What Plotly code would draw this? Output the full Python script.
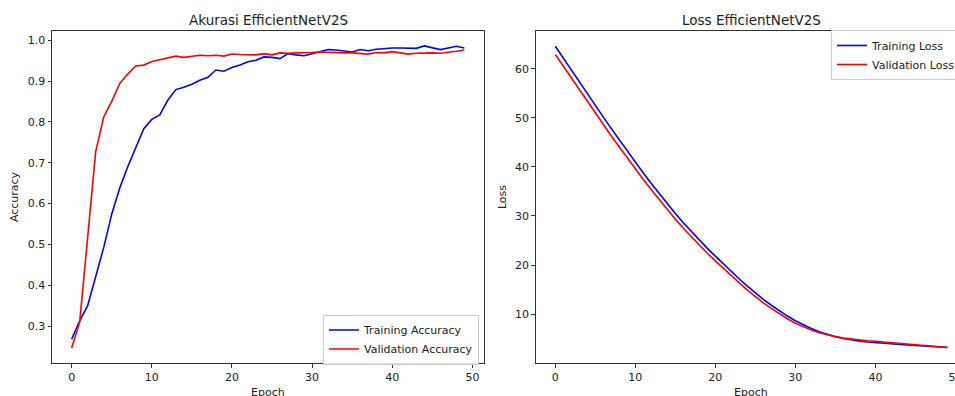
import plotly.graph_objects as go

epochs = list(range(50))

train_acc = [0.268, 0.312, 0.350, 0.421, 0.492, 0.574, 0.638, 0.690, 0.737, 0.783,
             0.806, 0.817, 0.853, 0.879, 0.885, 0.892, 0.902, 0.909, 0.927, 0.924,
             0.933, 0.939, 0.947, 0.951, 0.959, 0.958, 0.955, 0.967, 0.964, 0.962,
             0.967, 0.972, 0.977, 0.976, 0.974, 0.971, 0.977, 0.974, 0.978, 0.980,
             0.981, 0.981, 0.980, 0.980, 0.986, 0.982, 0.977, 0.981, 0.985, 0.981]

val_acc = [0.246, 0.309, 0.517, 0.727, 0.812, 0.850, 0.894, 0.917, 0.937, 0.939,
           0.948, 0.952, 0.956, 0.961, 0.958, 0.960, 0.963, 0.962, 0.963, 0.961,
           0.966, 0.965, 0.965, 0.964, 0.967, 0.964, 0.969, 0.968, 0.969, 0.969,
           0.970, 0.971, 0.970, 0.970, 0.969, 0.969, 0.968, 0.966, 0.970, 0.969,
           0.972, 0.969, 0.966, 0.968, 0.969, 0.969, 0.968, 0.970, 0.973, 0.976]

train_loss = [64.6, 62.15, 59.7, 57.3, 54.9, 52.5, 50.15, 47.8, 45.5, 43.2,
              40.95, 38.75, 36.6, 34.5, 32.45, 30.5, 28.6, 26.8, 25.05, 23.4,
              21.8, 20.2, 18.65, 17.15, 15.7, 14.3, 13.0, 11.8, 10.65, 9.6,
              8.65, 7.8, 7.05, 6.4, 5.85, 5.4, 5.03, 4.73, 4.49, 4.31,
              4.16, 4.04, 3.93, 3.82, 3.71, 3.61, 3.51, 3.41, 3.31, 3.21]

val_loss = [62.9, 60.5, 58.05, 55.7, 53.3, 50.95, 48.6, 46.3, 44.05, 41.8,
            39.6, 37.45, 35.35, 33.3, 31.25, 29.35, 27.5, 25.75, 24.0, 22.4,
            20.85, 19.3, 17.8, 16.35, 14.9, 13.55, 12.3, 11.15, 10.05, 9.05,
            8.15, 7.4, 6.75, 6.2, 5.75, 5.4, 5.1, 4.88, 4.7, 4.55,
            4.45, 4.32, 4.2, 4.07, 3.95, 3.8, 3.65, 3.5, 3.35, 3.2]

acc_ticks = [0.3, 0.4, 0.5, 0.6, 0.7, 0.8, 0.9, 1.0]
loss_ticks = [10, 20, 30, 40, 50, 60]
epoch_ticks = [0, 10, 20, 30, 40, 50]

# The page margin is removed (see post_script), so figure pixels equal window
# pixels.  The figure is wider than the 955px window so the right panel and its
# legend are cropped like the reference, and its height equals the window.
W, H = 1000, 396
OFF = 0
FONT = "DejaVu Sans"
INK = "#222222"


def fx(p):
    return (p - OFF) / W


def fy(p):
    return 1 - (p - OFF) / H


fig = go.Figure()
fig.add_trace(go.Scatter(x=epochs, y=train_acc, mode="lines", name="Training Accuracy",
                         line=dict(color="blue", width=1.6), xaxis="x", yaxis="y", legend="legend"))
fig.add_trace(go.Scatter(x=epochs, y=val_acc, mode="lines", name="Validation Accuracy",
                         line=dict(color="red", width=1.6), xaxis="x", yaxis="y", legend="legend"))
fig.add_trace(go.Scatter(x=epochs, y=train_loss, mode="lines", name="Training Loss",
                         line=dict(color="blue", width=1.6), xaxis="x2", yaxis="y2", legend="legend2"))
fig.add_trace(go.Scatter(x=epochs, y=val_loss, mode="lines", name="Validation Loss",
                         line=dict(color="red", width=1.6), xaxis="x2", yaxis="y2", legend="legend2"))

axis_common = dict(showgrid=False, zeroline=False, showline=True, linecolor="#333333", linewidth=1,
                   ticks="outside", ticklen=3.5, tickwidth=1, tickcolor="#333333",
                   tickfont=dict(family=FONT, size=11, color=INK))
title_font = dict(family=FONT, size=11, color=INK)

fig.update_layout(
    width=W, height=H,
    margin=dict(l=0, r=0, t=0, b=0, autoexpand=False),
    paper_bgcolor="white", plot_bgcolor="white",
    font=dict(family=FONT, size=11, color=INK),
    xaxis=dict(domain=[fx(52), fx(484)], range=[-2.45, 51.45], tickvals=epoch_ticks,
               mirror=True, anchor="y", **axis_common),
    yaxis=dict(domain=[fy(363), fy(31)], range=[0.2095, 1.0225], tickvals=acc_ticks,
               tickformat=".1f", mirror=True, anchor="x",
               title=dict(text="Accuracy", font=title_font, standoff=6),
               **axis_common),
    xaxis2=dict(domain=[fx(535.7), fx(967)], range=[-2.45, 51.45], tickvals=epoch_ticks,
                mirror=True, anchor="y2", **axis_common),
    yaxis2=dict(domain=[fy(363), fy(31)], range=[0.03, 67.7], tickvals=loss_ticks,
                mirror=True, anchor="x2",
                title=dict(text="Loss", font=title_font, standoff=6),
                **axis_common),
    legend=dict(x=fx(479), y=fy(339.5), xanchor="right", yanchor="middle",
                bgcolor="rgba(255,255,255,0.85)", bordercolor="#cccccc", borderwidth=1,
                font=dict(family=FONT, size=11, color=INK), tracegroupgap=0),
    legend2=dict(x=fx(831), y=fy(55), xanchor="left", yanchor="middle",
                 bgcolor="rgba(255,255,255,0.85)", bordercolor="#cccccc", borderwidth=1,
                 font=dict(family=FONT, size=11, color=INK), tracegroupgap=0),
    annotations=[
        dict(text="Akurasi EfficientNetV2S", x=fx(268), y=fy(20), xref="paper", yref="paper",
             xanchor="center", yanchor="middle", showarrow=False,
             font=dict(family=FONT, size=13.5, color=INK)),
        dict(text="Loss EfficientNetV2S", x=fx(751.4), y=fy(20), xref="paper", yref="paper",
             xanchor="center", yanchor="middle", showarrow=False,
             font=dict(family=FONT, size=13.5, color=INK)),
        dict(text="Epoch", x=fx(268), y=fy(384), xref="paper", yref="paper",
             xanchor="center", yanchor="top", showarrow=False, font=title_font),
        dict(text="Epoch", x=fx(751.4), y=fy(384), xref="paper", yref="paper",
             xanchor="center", yanchor="top", showarrow=False, font=title_font),
    ],
    showlegend=True,
)

fig.write_html(
    "out.html",
    config={"displayModeBar": False},
    post_script="document.body.style.margin='0';"
                "document.documentElement.style.overflow='hidden';"
                "document.body.style.overflow='hidden';",
)
